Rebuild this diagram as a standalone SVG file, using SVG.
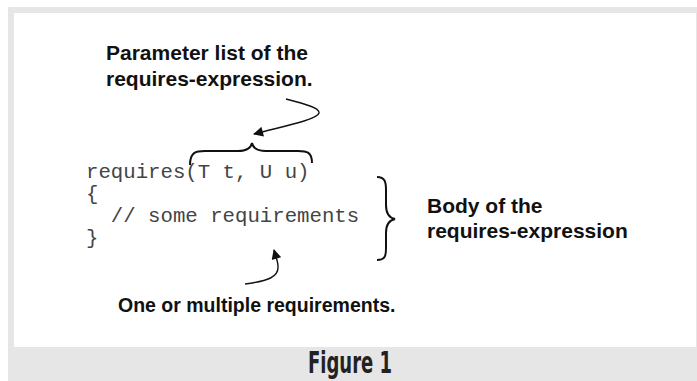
<svg xmlns="http://www.w3.org/2000/svg" width="697" height="381" viewBox="0 0 697 381">
<style>
.lbl{font-family:"Liberation Sans",Arial,Helvetica,sans-serif;font-weight:bold;font-size:21px;fill:#111}
.code{font-family:"Liberation Mono","Courier New",monospace;font-size:20.7px;fill:#444}
.ln{fill:none;stroke:#111;stroke-width:1.4}
.br{fill:none;stroke:#111;stroke-width:2}
.fig{font-family:"DejaVu Sans Condensed","Liberation Sans Narrow","Liberation Sans",sans-serif;font-weight:bold;font-size:31px;fill:#222}
</style>
<defs>
<marker id="ah" viewBox="0 0 10 10" refX="9" refY="5" markerWidth="12" markerHeight="10" markerUnits="userSpaceOnUse" orient="auto">
<path d="M0,0 L10,5 L0,10 z" fill="#111"/>
</marker>
</defs>
<rect width="697" height="381" fill="#fff"/>
<rect x="8" y="7" width="689" height="374" fill="#e6e6e6"/>
<rect x="14" y="13" width="682" height="334" fill="#fff"/>
<g id="param-label">
<text class="lbl" x="106" y="60">Parameter list of the</text>
<text class="lbl" x="106" y="86">requires-expression.</text>
</g>
<g id="code">
<text class="code" x="86" y="178" xml:space="preserve">requires(T t, U u)</text>
<text class="code" x="86" y="200">{</text>
<text class="code" x="86" y="222" xml:space="preserve">  // some requirements</text>
<text class="code" x="86" y="244">}</text>
</g>
<g id="body-label">
<text class="lbl" x="427" y="213">Body of the</text>
<text class="lbl" x="427" y="238">requires-expression</text>
</g>
<g id="req-label">
<text class="lbl" x="118" y="312" style="font-size:19.5px">One or multiple requirements.</text>
</g>
<g id="connectors">
<path class="br" d="M190,165 C190,152 196,151 205,151 L238,151 C247,151 251,148 252,143 C253,148 257,151 266,151 L298,151 C307,151 312,152 312,163"/>
<path class="br" d="M377,177 C385,177 386,182 386,190 L386,205 C386,214 390,218 395,219 C390,220 386,224 386,233 L386,248 C386,256 385,260 377,260"/>
<path class="ln" marker-end="url(#ah)" d="M286,99 C305,104 320,108 319,113 C317,120 280,127 254,134"/>
<path class="ln" marker-end="url(#ah)" d="M245,284 C268,281 279,277 278,266 C278,262 276,257 274,250"/>
</g>
<g id="caption">
<text class="fig" x="350" y="373" text-anchor="middle" textLength="84" lengthAdjust="spacingAndGlyphs">Figure 1</text>
</g>
</svg>
